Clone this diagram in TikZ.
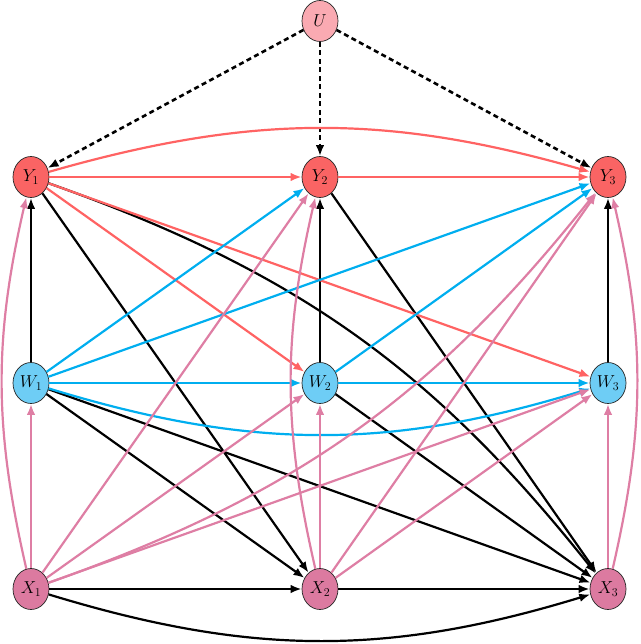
\documentclass[tikz,border=0pt]{standalone}
\usetikzlibrary{arrows.meta,shapes.geometric}
\definecolor{yfill}{RGB}{250,100,100}
\definecolor{redE}{RGB}{255,99,99}
\definecolor{wfill}{RGB}{110,205,245}
\definecolor{blueE}{RGB}{0,174,239}
\definecolor{xfill}{RGB}{220,122,160}
\definecolor{pinkE}{RGB}{222,126,164}
\definecolor{ufill}{RGB}{250,170,178}
\begin{document}
\begin{tikzpicture}[x=1pt,y=-1pt,
  var/.style={ellipse,draw=black!85,line width=0.7pt,minimum width=36pt,minimum height=41pt,inner sep=0pt,font=\fontsize{18}{21}\selectfont},
  arr/.style={-{Latex[length=11pt,width=8.5pt]},line width=2.2pt},
  blackarr/.style={arr,draw=black},
  redarr/.style={arr,draw=redE},
  bluearr/.style={arr,draw=blueE},
  pinkarr/.style={arr,draw=pinkE},
  dasharr/.style={arr,draw=black,line width=2.6pt,dash pattern=on 5pt off 3.5pt}]
\useasboundingbox (0,0) rectangle (640,644);
% nodes
\node[var,fill=ufill] (U) at (320,21) {$U$};
\node[var,fill=yfill] (Y1) at (31,177) {$Y_1$};
\node[var,fill=yfill] (Y2) at (320,177) {$Y_2$};
\node[var,fill=yfill] (Y3) at (608,177) {$Y_3$};
\node[var,fill=wfill] (W1) at (31,383) {$W_1$};
\node[var,fill=wfill] (W2) at (320,383) {$W_2$};
\node[var,fill=wfill] (W3) at (608,383) {$W_3$};
\node[var,fill=xfill] (X1) at (31,589) {$X_1$};
\node[var,fill=xfill] (X2) at (320,589) {$X_2$};
\node[var,fill=xfill] (X3) at (608,589) {$X_3$};
% U edges
\draw[dasharr] (U) -- (Y1);
\draw[dasharr] (U) -- (Y2);
\draw[dasharr] (U) -- (Y3);
% black edges
\draw[blackarr] (W1) -- (Y1);
\draw[blackarr] (W2) -- (Y2);
\draw[blackarr] (W3) -- (Y3);
\draw[blackarr] (Y1) -- (X2);
\draw[blackarr] (Y1) to[bend left=16] (X3);
\draw[blackarr] (Y2) -- (X3);
\draw[blackarr] (W1) -- (X2);
\draw[blackarr] (W1) -- (X3);
\draw[blackarr] (W2) -- (X3);
\draw[blackarr] (X1) -- (X2);
\draw[blackarr] (X2) -- (X3);
\draw[blackarr] (X1) to[bend right=17] (X3);
% red edges
\draw[redarr] (Y1) -- (Y2);
\draw[redarr] (Y2) -- (Y3);
\draw[redarr] (Y1) to[bend left=16] (Y3);
\draw[redarr] (Y1) -- (W2);
\draw[redarr] (Y1) -- (W3);
% blue edges
\draw[bluearr] (W1) -- (Y2);
\draw[bluearr] (W1) -- (Y3);
\draw[bluearr] (W2) -- (Y3);
\draw[bluearr] (W1) -- (W2);
\draw[bluearr] (W2) -- (W3);
\draw[bluearr] (W1) to[bend right=17] (W3);
% pink edges
\draw[pinkarr] (X1) -- (W1);
\draw[pinkarr] (X1) to[bend left=13] (Y1);
\draw[pinkarr] (X1) -- (Y2);
\draw[pinkarr] (X1) -- (W2);
\draw[pinkarr] (X1) to[bend right=16] (Y3);
\draw[pinkarr] (X1) -- (W3);
\draw[pinkarr] (X2) -- (W2);
\draw[pinkarr] (X2) to[bend left=13] (Y2);
\draw[pinkarr] (X2) -- (Y3);
\draw[pinkarr] (X2) -- (W3);
\draw[pinkarr] (X3) -- (W3);
\draw[pinkarr] (X3) to[bend right=13] (Y3);
\end{tikzpicture}
\end{document}
